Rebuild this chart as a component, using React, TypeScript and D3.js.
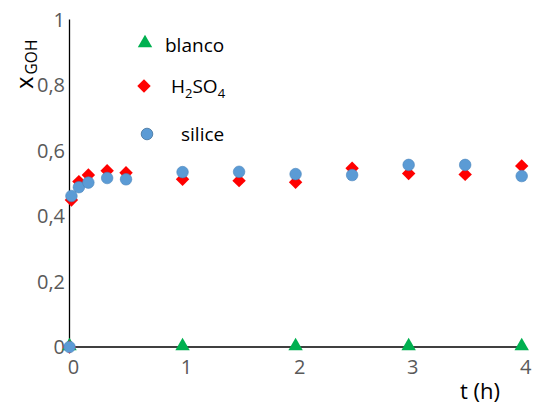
import React from "react";
import { scaleLinear, symbol, symbolTriangle, symbolDiamond2 } from "d3";

const width = 533;
const height = 405;

// tiempo (h)
const tBlanco = [0, 1, 2, 3, 4];
const blanco = [0, 0, 0, 0, 0];

const tCat = [0, 0.017, 0.083, 0.167, 0.333, 0.5, 1, 1.5, 2, 2.5, 3, 3.5, 4];
const h2so4 = [0, 0.449, 0.505, 0.525, 0.538, 0.532, 0.512, 0.508, 0.503, 0.546, 0.53, 0.527, 0.553];
const silice = [0, 0.461, 0.488, 0.502, 0.516, 0.512, 0.534, 0.535, 0.528, 0.525, 0.556, 0.556, 0.522];

const xTicks = [0, 1, 2, 3, 4];
const yTicks = [0, 0.2, 0.4, 0.6, 0.8, 1];

const font = "'Open Sans', sans-serif";
const grey = "#595959";

export default function App() {
  const x = scaleLinear().domain([0, 4]).range([69.5, 521.7]);
  const y = scaleLinear().domain([0, 1]).range([347, 19.5]);

  const tri = symbol().type(symbolTriangle).size(90)();
  const dia = symbol().type(symbolDiamond2).size(115)();

  const fmt = (v: number) => String(v).replace(".", ",");

  return (
    <svg
      width={width}
      height={height}
      style={{ position: "absolute", left: 0, top: 0, background: "#fff" }}
      fontFamily={font}
    >
      {/* axes */}
      <line x1={x(0)} x2={x(0)} y1={y(1)} y2={y(0)} stroke="#000" strokeWidth={1.3} />
      <line x1={x(0)} x2={x(4) + 2} y1={y(0)} y2={y(0)} stroke="#000" strokeWidth={1.3} />

      {yTicks.map((v) => (
        <text key={v} x={65} y={y(v)} dy="0.36em" textAnchor="end" fontSize={20} fill={grey}>
          {fmt(v)}
        </text>
      ))}
      {xTicks.map((v) => (
        <text key={v} x={x(v) + 4} y={373.5} textAnchor="middle" fontSize={20} fill={grey}>
          {v}
        </text>
      ))}

      {/* axis titles */}
      <text transform="translate(33, 89) rotate(-90)" fontSize={24} fill="#000">
        x
        <tspan fontSize={15.5} dx={2} dy={4}>GOH</tspan>
      </text>
      <text x={460} y={399} fontSize={22} fill="#000">t (h)</text>

      {/* series */}
      {tBlanco.map((t, i) => (
        <path key={i} d={tri} transform={`translate(${x(t)}, ${y(blanco[i]) - 1})`} fill="#00B050" />
      ))}
      {tCat.map((t, i) => (
        <path key={i} d={dia} transform={`translate(${x(t)}, ${y(h2so4[i])})`} fill="#FF0000" />
      ))}
      {tCat.map((t, i) => (
        <circle key={i} cx={x(t)} cy={y(silice[i])} r={5.8} fill="#5B9BD5" stroke="#4A84BC" strokeWidth={0.6} />
      ))}

      {/* legend */}
      <path d={tri} transform="translate(145, 43)" fill="#00B050" />
      <text x={165} y={52} fontSize={19} fill="#000">blanco</text>

      <path d={dia} transform="translate(144, 86)" fill="#FF0000" />
      <text x={171} y={93} fontSize={19} fill="#000">
        H<tspan fontSize={13} dy={5}>2</tspan>
        <tspan dy={-5}>SO</tspan>
        <tspan fontSize={13} dy={5}>4</tspan>
      </text>

      <circle cx={147} cy={134} r={5.8} fill="#5B9BD5" stroke="#41719C" strokeWidth={0.8} />
      <text x={181} y={141} fontSize={19} fill="#000">silice</text>
    </svg>
  );
}
